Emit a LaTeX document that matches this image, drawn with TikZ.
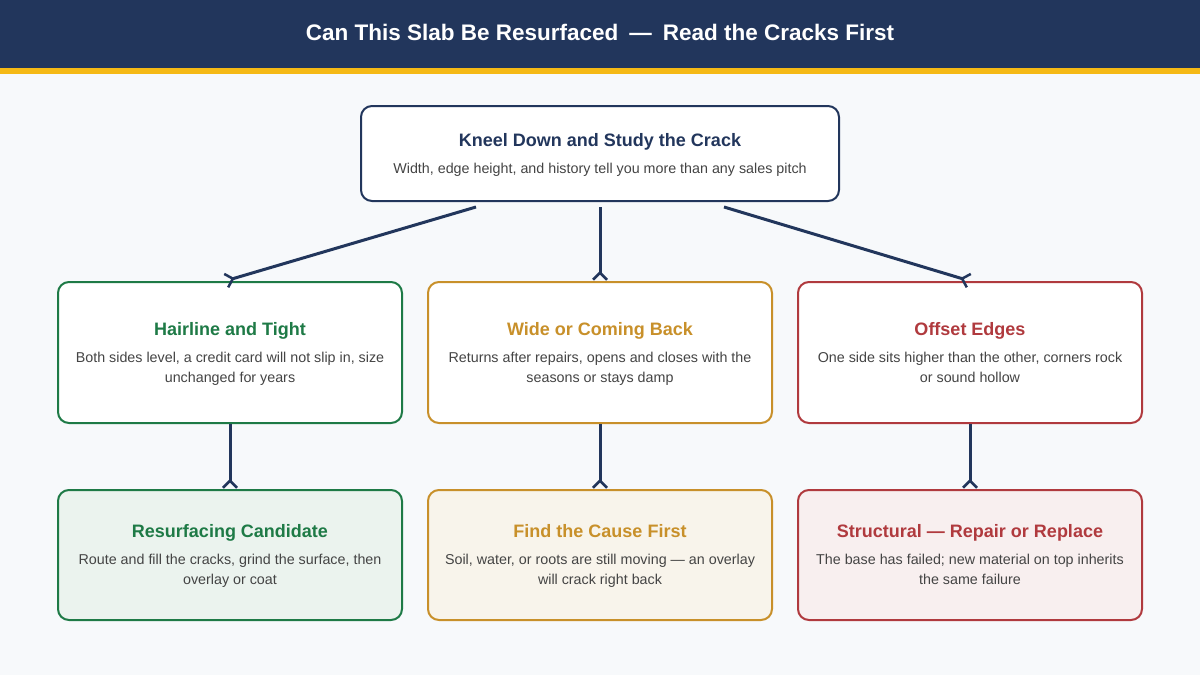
\documentclass[tikz,border=0pt]{standalone}
\usepackage{fontspec}
\setmainfont{Liberation Sans}
\usetikzlibrary{arrows.meta,calc}
\definecolor{navy}{HTML}{22365C}
\definecolor{gold}{HTML}{F5B915}
\definecolor{bg}{HTML}{F7F9FB}
\definecolor{grn}{HTML}{1E7A46}
\definecolor{ylw}{HTML}{C8902A}
\definecolor{red2}{HTML}{B03A3E}
\definecolor{grnfill}{HTML}{EBF3EE}
\definecolor{ylwfill}{HTML}{F8F4EB}
\definecolor{redfill}{HTML}{F8EFEF}
\definecolor{bodytxt}{HTML}{444444}
\tikzset{
  x=1pt,y=-1pt,
  box/.style={draw=#1,line width=2pt,rounded corners=11pt,fill=white,inner sep=0pt},
  ttl/.style={text=#1,font=\fontsize{18}{21}\selectfont\bfseries,inner sep=0pt,anchor=base},
  bdy/.style={text=bodytxt,font=\fontsize{14.3}{19.5}\selectfont,align=center,inner sep=0pt,anchor=north},
  conn/.style={draw=navy,line width=3pt,-{Straight Barb[reversed,length=7pt,width=14pt,line width=2.5pt]}},
}
\begin{document}
\begin{tikzpicture}
\useasboundingbox (0,0) rectangle (1200,675);
\fill[bg] (0,0) rectangle (1200,675);
\fill[navy] (0,0) rectangle (1200,68);
\fill[gold] (0,68) rectangle (1200,74);
\node[text=white,font=\fontsize{22.5}{26}\selectfont\bfseries,anchor=base] (title) at (600,40) {Can This Slab Be Resurfaced\hspace{11pt}—\hspace{11pt}Read the Cracks First};

% top box
\node[box=navy,minimum width=478pt,minimum height=95pt] (top) at (600,153.5) {};
\node[ttl=navy] (topt) at (600,146) {Kneel Down and Study the Crack};
\node[bdy] (topb) at (600,163) {Width, edge height, and history tell you more than any sales pitch};

% middle row
\node[box=grn,minimum width=344pt,minimum height=141pt] (m1) at (230,352.5) {};
\node[ttl=grn] (m1t) at (230,335) {Hairline and Tight};
\node[bdy] (m1b) at (230,352) {Both sides level, a credit card will not slip in, size\\unchanged for years};

\node[box=ylw,minimum width=344pt,minimum height=141pt] (m2) at (600,352.5) {};
\node[ttl=ylw] (m2t) at (600,335) {Wide or Coming Back};
\node[bdy] (m2b) at (600,352) {Returns after repairs, opens and closes with the\\seasons or stays damp};

\node[box=red2,minimum width=344pt,minimum height=141pt] (m3) at (970,352.5) {};
\node[ttl=red2] (m3t) at (970,335) {Offset Edges};
\node[bdy] (m3b) at (970,352) {One side sits higher than the other, corners rock\\or sound hollow};

% bottom row
\node[box=grn,fill=grnfill,minimum width=344pt,minimum height=130pt] (b1) at (230,555) {};
\node[ttl=grn] (b1t) at (230,537) {Resurfacing Candidate};
\node[bdy] (b1b) at (230,554) {Route and fill the cracks, grind the surface, then\\overlay or coat};

\node[box=ylw,fill=ylwfill,minimum width=344pt,minimum height=130pt] (b2) at (600,555) {};
\node[ttl=ylw] (b2t) at (600,537) {Find the Cause First};
\node[bdy] (b2b) at (600,554) {Soil, water, or roots are still moving — an overlay\\will crack right back};

\node[box=red2,fill=redfill,minimum width=344pt,minimum height=130pt] (b3) at (970,555) {};
\node[ttl=red2] (b3t) at (970,537) {Structural — Repair or Replace};
\node[bdy] (b3b) at (970,554) {The base has failed; new material on top inherits\\the same failure};

% connectors
\draw[conn] ($(top.south)+(-124,5)$) -- ($(m1.north)+(-5,0)$);
\draw[conn] ($(top.south)+(0,5)$) -- (m2.north);
\draw[conn] ($(top.south)+(124,5)$) -- (m3.north);
\draw[conn] (m1.south) -- (b1.north);
\draw[conn] (m2.south) -- (b2.north);
\draw[conn] (m3.south) -- (b3.north);
\end{tikzpicture}
\end{document}
